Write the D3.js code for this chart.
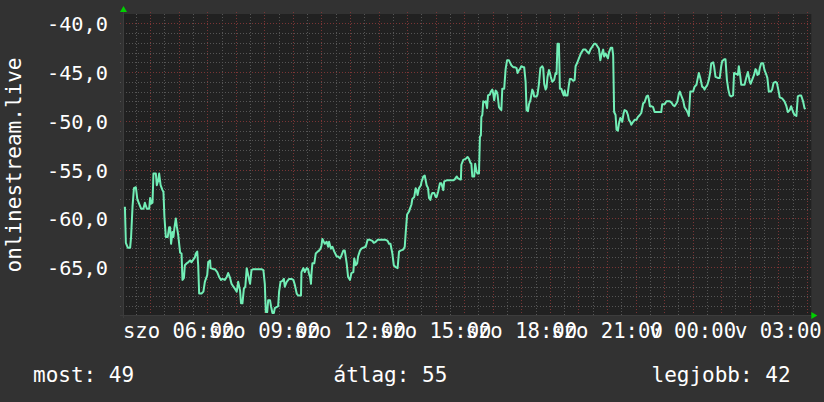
<!DOCTYPE html>
<html><head><meta charset="utf-8">
<script src="https://cdn.jsdelivr.net/npm/d3@7/dist/d3.min.js"></script>
<style>html,body{margin:0;padding:0;background:#323232;}svg{display:block;}</style>
</head><body>
<script>
// ---- data ----
const windowStartLabel = "2024-01-06T04:03"; // Saturday 04:03, 24h window
const windowMinutes = 1440;
const minutes = [4,6,10,15,17,20,23,27,30,34,38,43,46,50,55,57,59,62,64,69,71,74,76,79,83,85,87,90,94,97,99,101,104,106,108,111,113,116,120,123,125,128,130,134,137,141,144,148,151,153,156,158,160,165,169,172,177,179,183,184,190,193,198,202,206,209,214,218,221,225,228,232,235,239,242,246,248,251,254,257,260,263,267,270,274,291,295,298,300,303,305,309,311,314,317,319,326,328,331,335,338,340,344,349,354,358,361,365,368,374,375,379,382,386,389,391,393,395,396,398,402,405,409,412,415,417,419,422,424,428,431,433,437,440,444,449,452,456,459,463,466,470,473,477,480,484,486,489,492,494,498,501,505,510,514,519,524,527,531,535,543,552,556,559,562,566,569,573,577,580,583,589,592,594,597,601,603,606,608,612,615,617,619,622,626,627,631,634,638,641,643,646,648,650,654,657,659,662,666,669,673,675,680,687,694,697,701,704,708,710,711,715,720,724,727,730,732,734,738,740,743,745,748,750,752,753,755,757,760,762,765,767,771,773,776,778,780,783,785,787,790,793,795,797,801,804,807,811,814,816,820,823,827,829,832,834,837,841,843,846,848,851,853,856,860,862,864,869,871,874,877,881,883,885,888,890,892,895,897,899,902,906,909,911,913,916,918,921,923,926,928,930,934,937,939,942,946,949,951,954,958,962,967,972,975,979,982,986,990,993,996,1000,1003,1005,1009,1011,1014,1017,1019,1021,1025,1028,1030,1032,1035,1037,1040,1042,1045,1047,1049,1052,1054,1058,1061,1063,1066,1068,1072,1075,1079,1082,1086,1089,1093,1096,1100,1103,1105,1107,1110,1114,1117,1128,1131,1133,1138,1142,1149,1152,1156,1159,1163,1165,1168,1170,1173,1177,1180,1184,1187,1189,1192,1198,1201,1205,1207,1210,1213,1217,1220,1222,1224,1228,1231,1234,1236,1240,1242,1245,1250,1254,1257,1259,1263,1266,1269,1272,1275,1278,1282,1284,1289,1292,1294,1297,1299,1306,1310,1313,1317,1319,1322,1326,1329,1331,1333,1336,1338,1341,1345,1348,1352,1354,1357,1361,1364,1367,1371,1374,1377,1380,1385,1390,1394,1397,1401,1404,1408,1411,1415,1418,1422,1425,1429,1432,1434];
const values = [-58.8,-62.5,-63.0,-63.0,-61.9,-58.8,-56.9,-56.8,-58.0,-58.5,-59.0,-59.0,-58.4,-59.0,-59.0,-57.9,-58.5,-58.4,-55.4,-55.4,-56.6,-56.1,-55.4,-56.6,-57.1,-57.3,-59.8,-61.9,-61.9,-60.9,-60.9,-62.6,-61.4,-61.9,-61.0,-60.0,-60.8,-61.7,-63.5,-63.6,-66.3,-66.1,-64.8,-64.6,-64.5,-64.3,-64.5,-64.2,-64.0,-63.6,-63.4,-64.8,-67.7,-67.7,-67.5,-66.5,-65.8,-64.5,-64.3,-65.1,-65.2,-65.2,-65.5,-66.0,-66.3,-66.2,-66.3,-66.0,-65.6,-66.1,-66.7,-67.0,-67.2,-67.5,-66.5,-67.4,-68.7,-68.7,-67.2,-67.0,-65.1,-65.8,-66.7,-65.3,-65.2,-65.2,-65.3,-66.7,-69.6,-69.6,-68.4,-68.4,-69.0,-69.7,-69.7,-69.2,-69.0,-67.5,-66.5,-66.4,-66.2,-67.0,-66.5,-66.2,-66.2,-66.3,-66.8,-67.7,-67.9,-67.9,-65.5,-65.1,-65.5,-65.1,-65.2,-65.7,-66.0,-66.7,-65.7,-64.6,-64.6,-63.6,-63.4,-63.3,-63.1,-62.8,-62.1,-62.4,-62.6,-62.4,-62.9,-62.4,-63.1,-62.9,-63.4,-63.9,-63.9,-64.1,-63.8,-63.3,-63.3,-64.6,-66.0,-66.3,-65.6,-65.5,-64.1,-64.8,-64.6,-63.9,-63.3,-63.1,-63.0,-62.9,-62.2,-62.2,-62.3,-62.5,-62.4,-62.2,-62.2,-62.2,-62.3,-62.6,-62.6,-63.6,-64.8,-65.0,-65.1,-63.4,-63.3,-63.2,-62.9,-61.5,-59.6,-59.3,-59.0,-58.6,-58.0,-57.8,-56.9,-57.1,-57.6,-56.9,-56.6,-56.3,-55.7,-55.6,-56.6,-56.9,-57.9,-58.1,-57.6,-57.4,-57.4,-57.8,-57.8,-57.3,-56.4,-56.4,-57.1,-56.2,-56.1,-56.1,-56.1,-56.0,-55.7,-55.9,-56.0,-56.0,-54.5,-54.0,-53.9,-53.7,-53.9,-54.3,-54.4,-55.7,-55.7,-54.4,-55.2,-55.4,-55.4,-51.6,-51.5,-49.6,-49.4,-48.0,-48.1,-48.0,-48.7,-47.4,-47.3,-47.0,-46.8,-47.2,-47.9,-46.9,-47.0,-47.3,-48.6,-48.8,-48.9,-46.7,-46.7,-44.7,-43.8,-43.8,-44.1,-44.3,-44.5,-44.5,-44.6,-45.1,-44.8,-44.7,-44.4,-44.5,-44.5,-46.0,-48.9,-49.0,-48.3,-47.9,-46.8,-47.0,-47.5,-47.5,-47.3,-46.2,-44.6,-44.4,-44.6,-46.2,-46.8,-46.6,-45.5,-44.8,-45.1,-45.5,-46.0,-45.8,-45.1,-45.2,-42.1,-42.1,-46.7,-46.7,-47.0,-47.4,-46.9,-47.4,-47.4,-46.3,-45.7,-45.7,-45.9,-45.8,-44.4,-44.1,-43.6,-43.1,-42.7,-42.7,-42.9,-43.1,-42.7,-42.4,-42.1,-42.1,-42.3,-42.6,-43.8,-43.3,-42.7,-43.4,-43.1,-43.4,-43.6,-43.0,-42.5,-42.5,-43.3,-49.1,-49.4,-50.9,-51.0,-50.3,-49.7,-49.8,-50.1,-49.2,-48.9,-49.0,-49.4,-49.9,-50.1,-50.4,-50.1,-49.9,-49.9,-49.6,-49.4,-49.2,-48.2,-48.1,-47.5,-47.4,-47.8,-48.5,-48.5,-48.6,-49.1,-49.1,-49.1,-48.3,-48.3,-48.0,-48.0,-48.1,-48.4,-48.5,-48.2,-48.0,-47.2,-47.0,-47.4,-47.9,-48.6,-48.9,-49.2,-49.5,-47.0,-47.0,-46.5,-46.3,-45.8,-45.1,-45.6,-46.5,-46.6,-46.8,-46.6,-46.3,-45.8,-45.0,-44.1,-44.0,-44.4,-45.5,-45.6,-45.6,-44.4,-43.9,-43.7,-43.7,-45.8,-46.8,-47.4,-47.5,-47.4,-45.1,-45.2,-45.3,-44.4,-45.4,-46.3,-46.3,-45.5,-45.0,-46.0,-46.2,-45.8,-45.3,-44.7,-44.8,-45.3,-45.2,-44.6,-44.1,-44.1,-44.8,-45.3,-45.6,-47.0,-47.0,-46.8,-46.1,-46.0,-46.1,-46.8,-47.6,-47.7,-48.0,-48.5,-49.1,-48.9,-48.5,-49.1,-49.4,-49.5,-47.5,-47.4,-47.4,-48.0,-48.7,-48.8];
const yTicks = [-40, -45, -50, -55, -60, -65];
const yDomain = [-69.9, -39.05];
const yTitle = "onlinestream.live";
const legendLabels = ["most", "átlag", "legjobb"];
const legendValues = [49, 55, 42];
const shortDays = ["v", "h", "k", "sze", "cs", "p", "szo"];

// ---- chart ----
const W = 824, H = 402;
const M = {left: 123, right: 808.3, top: 14, bottom: 315};
const svg = d3.select("body").append("svg").attr("width", W).attr("height", H);
svg.append("rect").attr("width", W).attr("height", H).attr("fill", "#323232");
svg.append("rect").attr("x", M.left).attr("y", M.top).attr("width", M.right - M.left + 3).attr("height", M.bottom - M.top)
  .attr("fill", "#212121");

const t0 = new Date(windowStartLabel);
const t1 = d3.timeMinute.offset(t0, windowMinutes);
const x = d3.scaleTime().domain([t0, t1]).range([M.left, M.right]);
const y = d3.scaleLinear().domain(yDomain).range([M.bottom, M.top]);

const locale = d3.timeFormatLocale({
  dateTime: "%Y. %m. %d. %H:%M", date: "%Y. %m. %d.", time: "%H:%M:%S",
  periods: ["de.", "du."], days: ["vasárnap","hétfő","kedd","szerda","csütörtök","péntek","szombat"],
  shortDays: shortDays,
  months: ["január","február","március","április","május","június","július","augusztus","szeptember","október","november","december"],
  shortMonths: ["jan","feb","már","ápr","máj","jún","júl","aug","szep","okt","nov","dec"]
});
const xFmt = locale.format("%a %H:%M");
const numLocale = d3.formatLocale({decimal: ",", thousands: " ", grouping: [3], currency: ["", " Ft"], minus: "-"});
const yFmt = numLocale.format(".1f");

const grid = svg.append("g");
// minor horizontal
const yMinor = d3.range(Math.ceil(yDomain[0]), Math.floor(yDomain[1]) + 1).filter(v => v % 5 !== 0);
grid.selectAll(".hmin").data(yMinor).join("line")
  .attr("x1", M.left - 3).attr("x2", M.right + 3)
  .attr("y1", d => Math.round(y(d)) + 0.5).attr("y2", d => Math.round(y(d)) + 0.5)
  .attr("stroke", "#555").attr("stroke-width", 1).attr("stroke-dasharray", "1,2");
// minor vertical (30 min)
const xMinor = d3.timeMinute.every(30).range(t0, t1).filter(d => d.getMinutes() === 30);
grid.selectAll(".vmin").data(xMinor).join("line")
  .attr("x1", d => Math.round(x(d)) + 0.5).attr("x2", d => Math.round(x(d)) + 0.5)
  .attr("y1", M.top).attr("y2", M.bottom + 2)
  .attr("stroke", "#555").attr("stroke-width", 1).attr("stroke-dasharray", "1,2");
// major horizontal
grid.selectAll(".hmaj").data(yTicks).join("line")
  .attr("x1", M.left - 3).attr("x2", M.right + 3)
  .attr("y1", d => Math.round(y(d)) + 0.5).attr("y2", d => Math.round(y(d)) + 0.5)
  .attr("stroke", "#7a3535").attr("stroke-width", 1).attr("stroke-dasharray", "1,2");
// major vertical (hourly)
const xMajor = d3.timeHour.every(1).range(t0, t1);
grid.selectAll(".vmaj").data(xMajor).join("line")
  .attr("x1", d => Math.round(x(d)) + 0.5).attr("x2", d => Math.round(x(d)) + 0.5)
  .attr("y1", M.top - 2).attr("y2", M.bottom + 3)
  .attr("stroke", "#7a3535").attr("stroke-width", 1).attr("stroke-dasharray", "1,2");

// axes lines
svg.append("line").attr("x1", M.left - 3).attr("x2", M.right + 4).attr("y1", M.bottom + 0.5).attr("y2", M.bottom + 0.5)
  .attr("stroke", "#3c3c3c");
svg.append("line").attr("x1", M.left + 0.5).attr("x2", M.left + 0.5).attr("y1", M.top - 4).attr("y2", M.bottom + 3)
  .attr("stroke", "#3c3c3c");
// arrows
svg.append("path").attr("d", `M${M.left - 3},${M.top - 2} L${M.left + 4},${M.top - 2} L${M.left + 0.5},${M.top - 8} Z`).attr("fill", "#00d000");
svg.append("path").attr("d", `M${M.right + 3},${M.bottom - 3} L${M.right + 3},${M.bottom + 4} L${M.right + 9},${M.bottom + 0.5} Z`).attr("fill", "#00d000");

// data line
const data = minutes.map((m, i) => ({t: d3.timeMinute.offset(t0, m), v: values[i]}));
const line = d3.line().x(d => x(d.t)).y(d => y(d.v));
svg.append("path").datum(data).attr("d", line).attr("fill", "none")
  .attr("stroke", "#72eeb6").attr("stroke-width", 2).attr("stroke-linejoin", "round");

// y labels
const font = "'DejaVu Sans Mono', monospace";
svg.append("g").selectAll("text").data(yTicks).join("text")
  .attr("x", 108).attr("y", d => y(d) + 8)
  .attr("text-anchor", "end").attr("fill", "#fff")
  .style("font-family", font).style("font-size", "20.3px")
  .text(d => yFmt(d));

// x labels
const xLabels = d3.timeHour.every(3).range(t0, t1);
svg.append("g").selectAll("text").data(xLabels).join("text")
  .attr("x", d => x(d)).attr("y", 338)
  .attr("text-anchor", "middle").attr("fill", "#fff")
  .style("font-family", font).style("font-size", "20.6px")
  .text(d => xFmt(d));

// y title
svg.append("text")
  .attr("transform", `translate(21,165) rotate(-90)`)
  .attr("text-anchor", "middle").attr("fill", "#fff")
  .style("font-family", font).style("font-size", "21px")
  .text(yTitle);

// legend
const legendX = [33, 333.5, 651.5];
svg.append("g").selectAll("text").data(legendLabels).join("text")
  .attr("x", (d, i) => legendX[i]).attr("y", 382)
  .attr("fill", "#fff")
  .style("font-family", font).style("font-size", "21px")
  .text((d, i) => `${d}: ${legendValues[i]}`);
</script>
</body></html>
